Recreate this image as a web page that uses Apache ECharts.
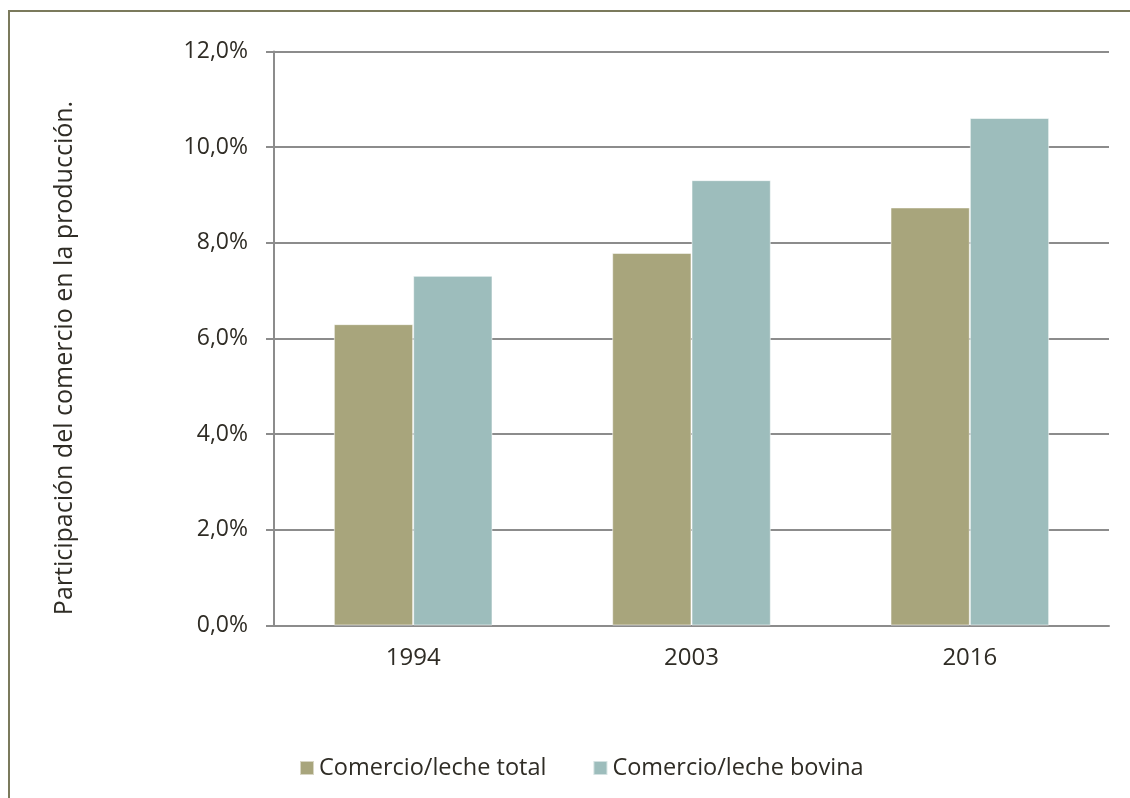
<!DOCTYPE html>
<html>
<head>
<meta charset="utf-8">
<script src="https://cdn.jsdelivr.net/npm/echarts@6/dist/echarts.min.js"></script>
<style>
  html, body { margin: 0; padding: 0; background: #fff; overflow: hidden; }
  #chart { width: 1130px; height: 798px; }
</style>
</head>
<body>
<div id="chart"></div>
<script>
// Participación del comercio en la producción de leche (%)
const years = ['1994', '2003', '2016'];
const totalShare = [6.30, 7.79, 8.74];   // Comercio/leche total
const bovineShare = [7.31, 9.31, 10.61]; // Comercio/leche bovina
const seriesNames = ['Comercio/leche total', 'Comercio/leche bovina'];
const axisTitle = 'Participación del comercio en la producción.';

const FONT = '"Open Sans", sans-serif';
const TEXT = '#2f2c25';

const chart = echarts.init(document.getElementById('chart'), null, { renderer: 'canvas' });

chart.setOption({
  backgroundColor: '#ffffff',
  animation: false,
  textStyle: { fontFamily: FONT, color: TEXT },
  graphic: [
    {
      // frame: left and top edges of the chart box
      type: 'polyline',
      shape: { points: [[9, 900], [9, 11], [1300, 11]] },
      style: { fill: 'none', stroke: '#7b7a5c', lineWidth: 2 },
      silent: true
    },
    {
      type: 'text',
      x: 65,
      y: 358,
      rotation: Math.PI / 2,
      style: {
        text: axisTitle,
        fontFamily: FONT,
        fontSize: 25,
        fill: TEXT,
        align: 'center',
        verticalAlign: 'middle'
      },
      silent: true
    }
  ],
  legend: {
    left: 294,
    top: 751,
    icon: 'rect',
    itemWidth: 14,
    itemHeight: 14,
    itemGap: 46,
    textStyle: { fontFamily: FONT, fontSize: 23.5, color: TEXT },
    data: seriesNames
  },
  grid: {
    left: 274,
    right: 21,
    top: 51.5,
    bottom: 172.5,
    containLabel: false
  },
  xAxis: {
    type: 'category',
    data: years,
    axisLine: { show: true, lineStyle: { color: '#8c8c8c', width: 2 } },
    axisTick: { show: false },
    axisLabel: { fontFamily: FONT, fontSize: 24, color: TEXT, margin: 21 }
  },
  yAxis: {
    type: 'value',
    min: 0,
    max: 12,
    interval: 2,
    axisLine: { show: true, lineStyle: { color: '#8c8c8c', width: 2 } },
    axisTick: { show: true, length: 8, lineStyle: { color: '#8c8c8c', width: 2 } },
    splitLine: { show: true, lineStyle: { color: '#8c8c8c', width: 2 } },
    axisLabel: {
      fontFamily: FONT,
      fontSize: 23,
      color: TEXT,
      margin: 26,
      formatter: v => v.toFixed(1).replace('.', ',') + '%'
    }
  },
  series: [
    {
      name: seriesNames[0],
      type: 'bar',
      data: totalShare,
      barGap: '0%',
      barCategoryGap: '43%',
      itemStyle: { color: '#a8a57c', borderColor: 'rgba(255,255,255,0.55)', borderWidth: 1 }
    },
    {
      name: seriesNames[1],
      type: 'bar',
      data: bovineShare,
      barGap: '0%',
      barCategoryGap: '43%',
      itemStyle: { color: '#9dbdbc', borderColor: 'rgba(255,255,255,0.55)', borderWidth: 1 }
    }
  ]
});
</script>
</body>
</html>
